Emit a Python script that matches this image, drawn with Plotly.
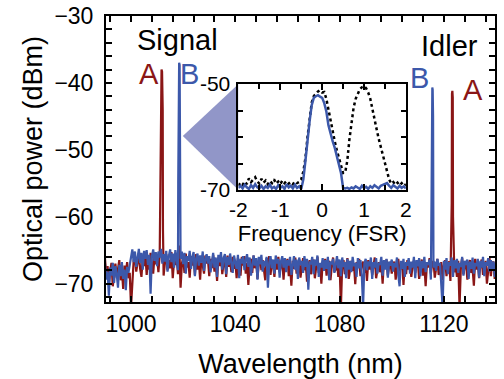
import numpy as np
import plotly.graph_objects as go

# ---------------- data ----------------
# main spectrum: noise floor sampled every 0.5 nm from 990 to 1140 nm
wl_start, wl_step = 990.0, 0.5
red_noise = [
    -66.2, -68.9, -67.4, -69.8, -68.1, -66.9, -70.4, -68.3, -67.0, -69.1, -67.6, -66.5, -69.5, -68.0, -70.8, -67.3, -68.6, -66.8, -69.2, -68.4,
    -73.5, -70.0, -66.6, -65.8, -68.2, -66.9, -65.5, -67.8, -69.0, -66.1, -67.4, -65.6, -68.7, -66.3, -67.9, -65.4, -66.8, -68.5, -65.9, -67.1,
    -66.0, -68.3, -65.7, -67.5, -66.4, -68.8, -66.9, -65.6, -68.0, -66.5, -67.7, -65.3, -69.2, -66.6, -67.2, -65.8, -68.6, -64.3, -70.6, -67.0,
    -66.2, -68.4, -65.5, -67.6, -66.8, -69.1, -65.9, -67.3, -66.1, -68.7, -65.6, -67.9, -66.5, -69.4, -66.0, -67.2, -68.5, -65.8, -67.0, -66.4,
    -68.9, -66.3, -67.7, -65.7, -68.2, -66.8, -69.6, -66.1, -67.4, -65.9, -68.6, -67.0, -66.4, -69.0, -65.8, -67.5, -66.6, -68.3, -66.0, -67.8,
    -66.7, -69.2, -66.2, -67.6, -68.8, -66.0, -67.3, -65.9, -68.5, -66.9, -70.2, -67.1, -66.3, -68.4, -65.8, -67.7, -66.6, -69.3, -67.0, -66.1,
    -68.0, -66.5, -67.8, -69.5, -66.2, -67.4, -65.9, -68.7, -66.8, -67.2, -69.0, -66.4, -67.9, -66.0, -68.3, -67.1, -66.5, -69.4, -66.7, -67.6,
    -66.3, -68.9, -67.2, -70.3, -66.6, -67.8, -66.1, -68.5, -67.0, -66.4, -69.1, -67.5, -66.2, -68.0, -66.9, -69.7, -67.3, -66.5, -68.6, -67.1,
    -66.4, -69.2, -67.6, -66.0, -68.4, -67.0, -70.0, -66.8, -67.7, -66.3, -68.8, -67.2, -66.6, -69.5, -67.4, -66.1, -68.2, -67.9, -66.7, -69.0,
    -67.3, -73.5, -67.1, -66.5, -68.6, -67.4, -66.2, -69.3, -67.8, -66.6, -68.1, -67.0, -70.1, -66.8, -67.5, -66.3, -68.9, -67.2, -66.7, -68.4,
    -67.0, -69.6, -66.5, -67.9, -66.9, -68.7, -67.3, -66.1, -69.2, -67.6, -66.8, -68.3, -67.1, -70.0, -66.6, -67.8, -66.4, -68.8, -67.4, -66.9,
    -68.5, -67.2, -66.7, -69.4, -67.5, -66.3, -68.2, -67.7, -66.9, -70.2, -67.0, -68.6, -66.5, -67.9, -66.8, -69.0, -67.3, -66.6, -68.4, -67.1,
    -66.7, -69.3, -67.5, -66.4, -68.8, -67.2, -70.4, -66.9, -67.6, -66.2, -68.5, -67.0, -66.6, -69.1, -67.8, -66.3, -68.7, -67.4, -66.8, -69.5,
    -67.2, -66.5, -68.9, -67.0, -66.7, -69.6, -67.8, -66.4, -68.3, -67.1, -69.0, -66.6, -73.5, -67.5, -66.2, -68.6, -67.3, -66.8, -69.4, -67.0,
    -66.5, -68.4, -67.7, -70.3, -66.3, -67.9, -66.8, -69.2, -67.1, -66.4, -68.7, -67.3, -66.6, -70.0, -67.5, -66.2, -68.9, -67.0, -66.7, -69.3,
    -67.4,
]
blue_noise = [
    -67.0, -69.4, -68.2, -71.8, -67.6, -68.8, -66.9, -69.9, -67.4, -68.5, -70.6, -67.2, -68.9, -66.8, -69.3, -67.9, -71.0, -67.5, -68.4, -67.1,
    -65.6, -64.9, -66.8, -65.2, -67.5, -65.8, -64.8, -66.9, -65.4, -67.9, -65.1, -66.3, -65.0, -67.2, -65.7, -71.5, -66.0, -64.9, -66.6, -65.3,
    -67.4, -65.2, -66.1, -64.8, -67.0, -65.6, -66.7, -65.1, -68.2, -65.9, -64.9, -66.8, -65.5, -67.6, -65.0, -66.4, -68.0, -65.7, -66.3, -65.2,
    -67.1, -65.4, -68.5, -65.9, -66.6, -65.1, -67.8, -66.0, -65.3, -68.9, -66.2, -65.5, -67.3, -65.8, -66.9, -65.2, -68.1, -66.4, -65.6, -67.0,
    -65.9, -68.3, -66.5, -65.4, -67.6, -66.1, -69.0, -65.7, -66.8, -65.3, -67.9, -66.2, -65.6, -68.6, -66.0, -67.2, -65.5, -66.9, -68.4, -65.8,
    -66.6, -67.8, -65.7, -69.2, -66.3, -67.0, -65.9, -68.0, -66.5, -65.6, -67.5, -66.1, -68.8, -66.7, -65.8, -67.3, -66.2, -69.4, -66.0, -67.1,
    -65.7, -68.2, -66.6, -67.4, -66.0, -70.6, -66.9, -65.9, -67.7, -66.4, -68.5, -65.8, -67.0, -66.3, -69.1, -66.7, -65.9, -67.6, -66.2, -68.3,
    -66.5, -67.3, -66.0, -68.7, -66.8, -65.9, -67.9, -66.4, -69.3, -66.1, -67.2, -66.6, -68.4, -65.9, -67.5, -66.3, -70.9, -66.7, -67.1, -66.0,
    -68.6, -66.4, -67.3, -65.8, -69.0, -66.9, -67.6, -66.2, -68.1, -66.5, -67.8, -66.0, -69.5, -66.7, -67.1, -66.3, -68.4, -66.9, -65.9, -67.7,
    -66.4, -68.9, -66.1, -67.5, -66.8, -69.2, -66.3, -67.9, -66.6, -68.3, -66.0, -67.4, -66.9, -69.0, -66.2, -67.7, -66.5, -68.6, -73.5, -67.0,
    -66.3, -68.0, -66.7, -67.4, -66.1, -69.3, -66.8, -67.6, -66.2, -68.5, -66.9, -67.2, -66.0, -68.8, -66.5, -67.9, -66.3, -69.1, -66.7, -67.3,
    -66.4, -68.2, -66.9, -67.5, -66.1, -68.7, -70.4, -66.6, -67.8, -66.3, -69.0, -66.8, -67.3, -66.2, -68.5, -66.7, -67.6, -66.0, -69.2, -66.5,
    -67.4, -66.2, -68.9, -66.6, -67.7, -66.0, -68.3, -66.8, -67.2, -66.4, -69.4, -66.1, -67.6, -66.7, -68.1, -66.3, -67.3, -66.9, -69.8, -73.5,
    -66.6, -67.9, -66.2, -68.6, -66.8, -67.3, -66.1, -69.0, -66.5, -67.7, -66.3, -68.4, -66.9, -67.5, -66.0, -68.8, -66.6, -67.2, -66.4, -69.3,
    -66.7, -67.8, -66.1, -68.5, -66.9, -67.4, -66.3, -69.1, -66.6, -67.6, -66.0, -68.9, -66.8, -67.3, -66.2, -68.2, -66.5, -67.9, -66.7, -69.0,
    -66.8,
]
# peak samples (wavelength nm, power dBm), one list per peak
red_peaks = [
    ([1011.40, 1011.50, 1011.70, 1011.90, 1012.05, 1012.15, 1012.25],
     [-50.0, -38.4, -38.0, -38.3, -43.4, -44.0, -62.0]),
    ([1123.00, 1123.10, 1123.25, 1123.40, 1123.50],
     [-58.0, -41.6, -41.2, -42.2, -60.0]),
]
blue_peaks = [
    ([1018.10, 1018.25, 1018.45, 1018.65, 1018.80, 1018.90],
     [-55.0, -37.4, -37.0, -37.3, -45.0, -62.0]),
    ([1115.30, 1115.40, 1115.55, 1115.70, 1115.85, 1115.95],
     [-55.0, -41.0, -40.7, -41.0, -45.0, -60.0]),
]

# inset: frequency detuning in FSR units, sampled every 0.05 FSR
freq_start, freq_stop = -2.0, 2.0
inset_blue = [
    -69.6, -69.2, -69.7, -69.0, -69.5, -69.8, -69.1, -69.6, -68.9, -69.5,
    -69.7, -69.2, -69.8, -69.3, -69.6, -69.0, -69.7, -69.4, -69.8, -69.1,
    -69.6, -69.3, -69.8, -68.9, -69.5, -69.2, -69.7, -69.0, -69.6, -69.3,
    -69.8, -68.0, -64.5, -60.5, -57.0, -54.0, -52.6, -52.3, -52.1, -52.4,
    -52.6, -53.6, -55.2, -57.8, -59.5, -60.8, -62.0, -63.5, -65.2, -66.8,
    -69.6, -69.7, -69.6, -69.8, -69.5, -69.7, -69.3, -69.6, -69.8, -69.2,
    -69.6, -69.4, -69.8, -69.3, -69.6, -69.1, -69.5, -69.7, -69.2, -69.0,
    -68.8, -68.7, -69.2, -69.6, -69.1, -69.5, -69.7, -69.2, -69.6, -69.3,
    -69.7,
]
inset_black = [
    -69.2, -68.6, -69.0, -68.4, -68.9, -67.8, -68.5, -68.1, -67.6, -68.4,
    -68.8, -67.9, -68.6, -68.2, -68.9, -68.3, -68.7, -68.0, -68.8, -68.4,
    -68.9, -68.2, -68.7, -68.3, -68.8, -68.5, -68.9, -68.4, -68.7, -68.5,
    -68.0, -66.5, -64.0, -60.0, -56.5, -53.5, -52.3, -51.8, -51.4, -51.2,
    -51.6, -51.5, -52.8, -54.8, -57.0, -59.0, -60.8, -62.5, -64.0, -65.5,
    -66.8, -66.7, -64.5, -60.5, -57.0, -54.5, -52.8, -51.8, -51.0, -50.6,
    -50.4, -50.8, -51.6, -52.8, -54.5, -56.5, -58.5, -60.3, -61.8, -63.2,
    -64.8, -66.5, -68.0, -68.8, -68.5, -69.0, -68.6, -69.1, -68.7, -69.2,
    -68.9,
]

main_xticks = [1000, 1040, 1080, 1120]
main_yticks = [-70, -60, -50, -40, -30]
inset_xticks = [-2, -1, 0, 1, 2]
inset_xticktext = ["-2", "-1", "0", "1", "2"]
inset_yticks = [-70, -50]
inset_yticktext = ["-70", "-50"]


# ---------------- build series ----------------
def merge(noise, peaks):
    grid = wl_start + wl_step * np.arange(len(noise))
    vals = np.asarray(noise, dtype=float)
    keep = np.ones(len(grid), dtype=bool)
    for px, _ in peaks:
        keep &= ~((grid >= min(px)) & (grid <= max(px)))
    xs = [grid[keep]] + [np.asarray(px) for px, _ in peaks]
    ys = [vals[keep]] + [np.asarray(py) for _, py in peaks]
    xs = np.concatenate(xs)
    ys = np.concatenate(ys)
    order = np.argsort(xs, kind="stable")
    return xs[order], ys[order]


red_x, red_y = merge(red_noise, red_peaks)
blue_x, blue_y = merge(blue_noise, blue_peaks)
freq_grid = np.linspace(freq_start, freq_stop, len(inset_blue))

RED = "#8a1616"
BLUE = "#3c58aa"
FONT = "Liberation Sans, Arial, sans-serif"

fig = go.Figure()
fig.add_trace(go.Scatter(x=red_x, y=red_y, mode="lines",
                         line=dict(color=RED, width=2.2), xaxis="x", yaxis="y"))
fig.add_trace(go.Scatter(x=blue_x, y=blue_y, mode="lines",
                         line=dict(color=BLUE, width=2.2), xaxis="x", yaxis="y"))
fig.add_trace(go.Scatter(x=freq_grid, y=inset_black, mode="lines",
                         line=dict(color="black", width=2.5, dash="dot"),
                         xaxis="x2", yaxis="y2"))
fig.add_trace(go.Scatter(x=freq_grid, y=inset_blue, mode="lines",
                         line=dict(color=BLUE, width=2.5), xaxis="x2", yaxis="y2"))

axis_common = dict(showline=True, linecolor="black", linewidth=2, mirror="ticks",
                   ticks="inside", ticklen=6, tickwidth=2, tickcolor="black",
                   showgrid=False, zeroline=False)

# plot-area fractions for the inset
ix0, ix1 = 0.3405, 0.7709
iy0, iy1 = 0.3916, 0.7622

fig.update_layout(
    width=504, height=379,
    margin=dict(l=106, r=3, t=16, b=77),
    paper_bgcolor="white", plot_bgcolor="white",
    showlegend=False,
    font=dict(family=FONT, color="black"),
    xaxis=dict(**axis_common, range=[990.4, 1139.6], tickvals=main_xticks,
               minor=dict(dtick=8, tick0=1000, ticks="inside", ticklen=6,
                          tickwidth=2, tickcolor="black"),
               tickfont=dict(size=23), ticklabelstandoff=0,
               title=dict(text="Wavelength (nm)", font=dict(size=27), standoff=20)),
    yaxis=dict(**axis_common, range=[-72.75, -30], tickvals=main_yticks,
               minor=dict(dtick=2, tick0=-70, ticks="inside", ticklen=6,
                          tickwidth=2, tickcolor="black"),
               tickfont=dict(size=23), ticklabelstandoff=6,
               title=dict(text="Optical power (dBm)", font=dict(size=27), standoff=4)),
    xaxis2=dict(**axis_common, domain=[ix0, ix1], anchor="y2", range=[-2, 2],
                tickvals=inset_xticks, ticktext=inset_xticktext,
                minor=dict(dtick=0.5, tick0=0, ticks="inside", ticklen=5,
                           tickwidth=2, tickcolor="black"),
                tickfont=dict(size=21), ticklabelstandoff=0,
                title=dict(text="Frequency (FSR)", font=dict(size=22), standoff=4)),
    yaxis2=dict(**axis_common, domain=[iy0, iy1], anchor="x2", range=[-70, -50],
                tickvals=inset_yticks, ticktext=inset_yticktext,
                minor=dict(dtick=5, tick0=-70, ticks="inside", ticklen=5,
                           tickwidth=2, tickcolor="black"),
                tickfont=dict(size=21), ticklabelstandoff=2),
)

# zoom triangle from signal B line to inset
fig.add_shape(type="path", xref="paper", yref="paper", layer="below",
              path=f"M 0.1975,0.5804 L {ix0},{iy1} L {ix0},{iy0} Z",
              fillcolor="rgb(145,150,200)", line=dict(width=0))

ann = [
    ("Signal", 1017.8, -33.6, "black", 29),
    ("Idler", 1122.3, -34.5, "black", 29),
    ("A", 1006.9, -38.7, RED, 29),
    ("B", 1022.4, -38.6, BLUE, 29),
    ("B", 1110.8, -39.3, BLUE, 29),
    ("A", 1131.0, -41.1, RED, 29),
]
for text, x, y, col, size in ann:
    fig.add_annotation(x=x, y=y, xref="x", yref="y", text=text, showarrow=False,
                       font=dict(size=size, color=col, family=FONT),
                       xanchor="center", yanchor="middle")

fig.write_html("out.html")
